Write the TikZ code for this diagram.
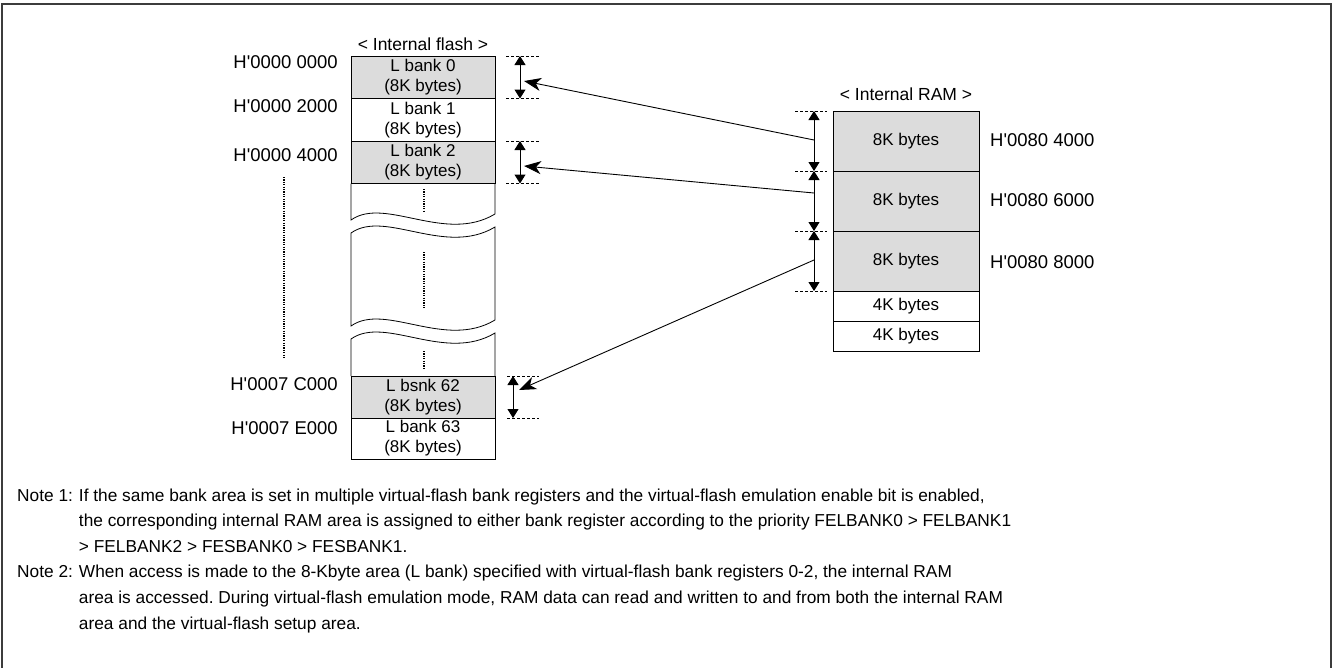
\documentclass[tikz,border=0pt]{standalone}
\usepackage{fontspec}
\setmainfont{Liberation Sans}
\usepackage{xcolor}
\usetikzlibrary{positioning,calc,arrows.meta}

\definecolor{bankgray}{RGB}{220,220,220}
\definecolor{framegray}{RGB}{60,60,60}
\newcommand{\hq}{H\textquotesingle}
\frenchspacing

\begin{document}
\begin{tikzpicture}[x=1pt,y=-1pt,
                bank/.style={draw,line width=1pt,minimum width=144pt,minimum height=42.5pt,
                             inner sep=0pt,align=center,font=\fontsize{17}{20}\selectfont},
                ramblk/.style={draw,line width=0.8pt,minimum width=146pt,inner sep=0pt,
                             font=\fontsize{17}{20}\selectfont},
                hdr/.style={inner sep=0pt,font=\fontsize{17.5}{20}\selectfont},
                addr/.style={inner sep=0pt,font=\fontsize{18.5}{22}\selectfont},
                brk/.style={draw,line width=0.8pt},
                dots/.style={line width=1.2pt,dash pattern=on 1.2pt off 1.2pt},
                guide/.style={line width=0.8pt,dash pattern=on 3pt off 2pt},
                dim/.style={line width=1pt,{Triangle[width=11pt,length=9pt]}-{Triangle[width=11pt,length=9pt]}},
                pointer/.style={line width=0.9pt,-{Stealth[length=17pt,width=13pt,inset=5pt]}}]
\useasboundingbox (0,0) rectangle (1333,667);
\draw[framegray,line width=2pt] (1.5,672) -- (1.5,4) -- (1330.5,4) -- (1330.5,672);
%Nodes
    \node[hdr] (flashhdr) at (423,44) {< Internal flash >};
    \node[bank,fill=bankgray] (lb0)  at (423,77.25)  {L bank 0\\(8K bytes)};
    \node[bank]               (lb1)  at (423,119.75) {L bank 1\\(8K bytes)};
    \node[bank,fill=bankgray] (lb2)  at (423,162.25) {L bank 2\\(8K bytes)};
    \node[bank,fill=bankgray,minimum height=42pt] (lb62) at (423,397) {L bsnk 62\\(8K bytes)};
    \node[bank,minimum height=41pt] (lb63) at (423,438.5) {L bank 63\\(8K bytes)};

    \node[addr,anchor=east] (fa0)  at (338,62)  {\hq 0000 0000};
    \node[addr,anchor=east] (fa1)  at (338,106) {\hq 0000 2000};
    \node[addr,anchor=east] (fa2)  at (338,155) {\hq 0000 4000};
    \node[addr,anchor=east] (fa62) at (338,384) {\hq 0007 C000};
    \node[addr,anchor=east] (fa63) at (338,428) {\hq 0007 E000};

    \node[hdr] (ramhdr) at (906,94) {< Internal RAM >};
    \node[ramblk,fill=bankgray,minimum height=60pt] (rm0) at (906,141) {8K bytes};
    \node[ramblk,fill=bankgray,minimum height=60pt] (rm1) at (906,201) {8K bytes};
    \node[ramblk,fill=bankgray,minimum height=60pt] (rm2) at (906,261) {8K bytes};
    \node[ramblk,minimum height=30pt] (rm3) at (906,306) {4K bytes};
    \node[ramblk,minimum height=30pt] (rm4) at (906,336) {4K bytes};

    \node[addr,anchor=west] (ra0) at (990,140) {\hq 0080 4000};
    \node[addr,anchor=west] (ra1) at (990,200) {\hq 0080 6000};
    \node[addr,anchor=west] (ra2) at (990,262) {\hq 0080 8000};

%Breaks
    \draw[brk] (351,183.5) -- (351,220) .. controls (385,196) and (445,244) .. (495,214) -- (495,183.5);
    \draw[brk] (351,233) .. controls (385,209) and (445,257) .. (495,227) -- (495,320)
               .. controls (445,350) and (385,302) .. (351,326) -- cycle;
    \draw[brk] (351,376) -- (351,339) .. controls (385,315) and (445,363) .. (495,333) -- (495,376);
    \draw[dots] (424,189) -- (424,212);
    \draw[dots] (424,252) -- (424,309);
    \draw[dots] (424,351) -- (424,368);
    \draw[dots] (284,177) -- (284,358);

%Marks
    \foreach \y in {56,98.5,141,183.5}
        \draw[guide] (506,\y) -- (539,\y);
    \foreach \y in {376,418}
        \draw[guide] (507,\y) -- (539,\y);
    \foreach \y in {111,171,231,291}
        \draw[guide] (795,\y) -- (827,\y);
    \draw[dim] (520,56) -- (520,98.5);
    \draw[dim] (520,141) -- (520,183.5);
    \draw[dim] (513,376) -- (513,418);
    \draw[dim] (814,111) -- (814,171);
    \draw[dim] (814,171) -- (814,231);
    \draw[dim] (814,231) -- (814,291);

%Lines
    \coordinate (f0) at (524,81);
    \coordinate (f2) at (524,166);
    \coordinate (f62) at (519,390);
    \coordinate (r0) at (814,140);
    \coordinate (r1) at (814,193);
    \coordinate (r2) at (814,260);
    \draw[pointer] (r0) -- (f0);
    \draw[pointer] (r1) -- (f2);
    \draw[pointer] (r2) -- (f62);

%Notes
    \node[anchor=north west,inner sep=0pt,font=\fontsize{17.3}{25.6}\selectfont] (notes) at (17,483) {%
      \begin{tabular}{@{}l@{\hspace{6pt}}l@{}}
      Note 1: & If the same bank area is set in multiple virtual-flash bank registers and the virtual-flash emulation enable bit is enabled,\\
              & the corresponding internal RAM area is assigned to either bank register according to the priority FELBANK0 > FELBANK1\\
              & > FELBANK2 > FESBANK0 > FESBANK1.\\
      Note 2: & When access is made to the 8-Kbyte area (L bank) specified with virtual-flash bank registers 0-2, the internal RAM\\
              & area is accessed. During virtual-flash emulation mode, RAM data can read and written to and from both the internal RAM\\
              & area and the virtual-flash setup area.
      \end{tabular}};
\end{tikzpicture}
\end{document}
